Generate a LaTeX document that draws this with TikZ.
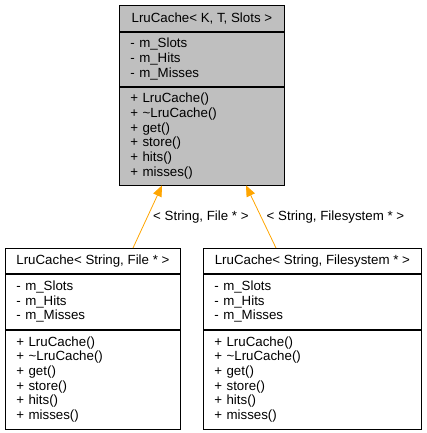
\documentclass[tikz,border=0pt]{standalone}
\usepackage{fontspec}
\setmainfont{Liberation Sans}
\usetikzlibrary{positioning,arrows.meta}
\definecolor{inhorange}{HTML}{FFA500}
\definecolor{basegray}{HTML}{BFBFBF}

\begin{document}
\begin{tikzpicture}[x=1pt,y=-1pt,font=\fontsize{13.3}{14.7}\selectfont,
  part/.style={draw,anchor=north west,inner xsep=11pt,inner ysep=0pt,line width=0.8pt,align=left},
  inh/.style={draw=inhorange,line width=0.8pt,-{Triangle[length=11pt,width=9pt,fill=inhorange]}}]
\useasboundingbox (0,0) rectangle (427,433);
% template class
\node[part,fill=basegray,minimum width=165pt,minimum height=26pt] (baseT) at (119,5) {LruCache< K, T, Slots >};
\node[part,fill=basegray,text width=143pt,minimum height=54pt] (baseA) at (baseT.south west) {- m\_Slots\\- m\_Hits\\- m\_Misses};
\node[part,fill=basegray,text width=143pt,minimum height=98pt] (baseM) at (baseA.south west) {+ LruCache()\\+ \textasciitilde LruCache()\\+ get()\\+ store()\\+ hits()\\+ misses()};
% File instance
\node[part,minimum width=175pt,minimum height=25pt] (fileT) at (5,248) {LruCache< String, File * >};
\node[part,text width=153pt,minimum height=55pt] (fileA) at (fileT.south west) {- m\_Slots\\- m\_Hits\\- m\_Misses};
\node[part,text width=153pt,minimum height=99pt] (fileM) at (fileA.south west) {+ LruCache()\\+ \textasciitilde LruCache()\\+ get()\\+ store()\\+ hits()\\+ misses()};
% Filesystem instance
\node[part,minimum width=218pt,minimum height=25pt] (fsT) at (203,248) {LruCache< String, Filesystem * >};
\node[part,text width=196pt,minimum height=55pt] (fsA) at (fsT.south west) {- m\_Slots\\- m\_Hits\\- m\_Misses};
\node[part,text width=196pt,minimum height=99pt] (fsM) at (fsA.south west) {+ LruCache()\\+ \textasciitilde LruCache()\\+ get()\\+ store()\\+ hits()\\+ misses()};
% instantiation arrows
\draw[inh] ([xshift=128pt]fileT.north west) -- node[right,xshift=2pt] (fileL) {< String, File * >} ([xshift=43pt]baseM.south west);
\draw[inh] ([xshift=73pt]fsT.north west) -- node[right,xshift=2pt] (fsL) {< String, Filesystem * >} ([xshift=127pt]baseM.south west);
\end{tikzpicture}
\end{document}
